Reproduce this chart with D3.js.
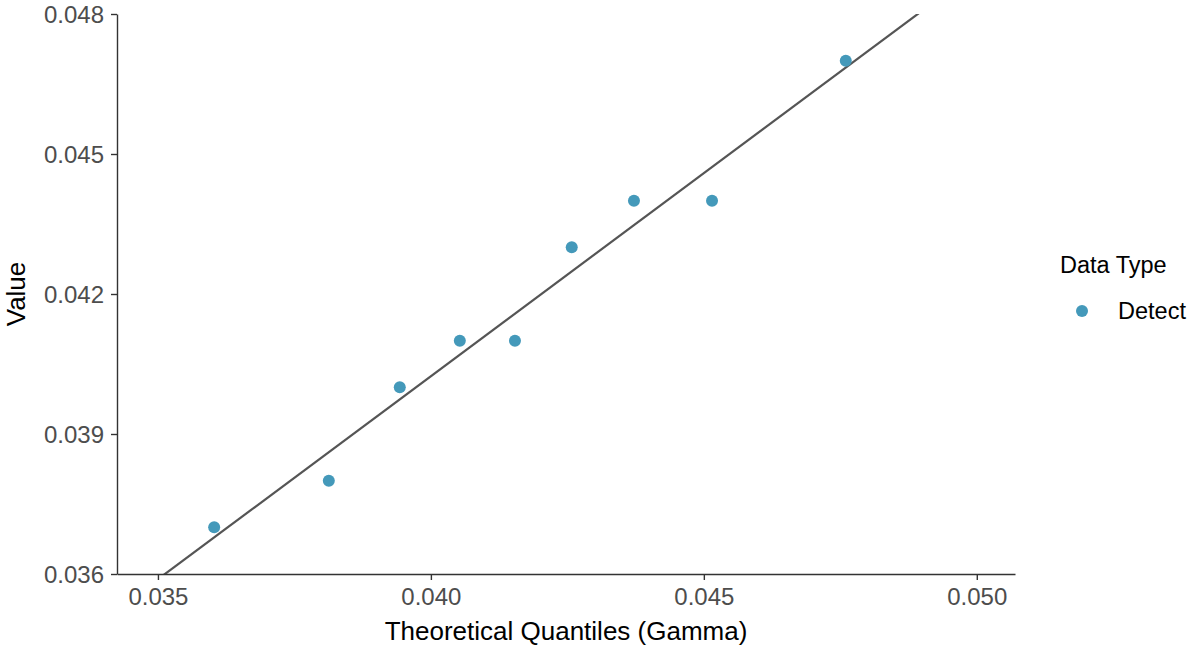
<!DOCTYPE html>
<html>
<head>
<meta charset="utf-8">
<script src="https://cdn.jsdelivr.net/npm/d3@7"></script>
<style>
  body { margin: 0; background: #fff; }
  text { font-family: "Liberation Sans", Arial, sans-serif; }
</style>
</head>
<body>
<svg id="chart" width="1190" height="648"></svg>
<script>
// ---- Data ----
const theoretical = [0.03603, 0.03813, 0.03943, 0.04053, 0.04154, 0.04258, 0.04372, 0.04515, 0.04760];
const observed    = [0.037, 0.038, 0.040, 0.041, 0.041, 0.043, 0.044, 0.044, 0.047];
const seriesName  = "Detect";
const xTicks = [0.035, 0.040, 0.045, 0.050];
const yTicks = [0.036, 0.039, 0.042, 0.045, 0.048];
const lineSlope = 0.8701;
const lineIntercept = 0.005435;
const xDomain = [0.03425, 0.05070];
const yDomain = [0.036, 0.048];

// ---- Layout ----
const svg = d3.select("#chart");
const margin = { left: 117, right: 1015, top: 14, bottom: 574 };
const x = d3.scaleLinear().domain(xDomain).range([margin.left, margin.right]);
const y = d3.scaleLinear().domain(yDomain).range([margin.bottom, margin.top]);
const axisColor = "#333333";
const tickTextColor = "#4d4d4d";
const pointColor = "#4499BA";

svg.append("defs").append("clipPath").attr("id", "clip")
  .append("rect").attr("x", margin.left).attr("y", margin.top)
  .attr("width", margin.right - margin.left).attr("height", margin.bottom - margin.top);

// reference line
const lx0 = xDomain[0], lx1 = xDomain[1];
svg.append("line")
  .attr("clip-path", "url(#clip)")
  .attr("x1", x(lx0)).attr("y1", y(lineSlope * lx0 + lineIntercept))
  .attr("x2", x(lx1)).attr("y2", y(lineSlope * lx1 + lineIntercept))
  .attr("stroke", "#555555").attr("stroke-width", 2.2);

// points
svg.append("g").selectAll("circle")
  .data(theoretical.map((t, i) => [t, observed[i]]))
  .join("circle")
  .attr("cx", d => x(d[0])).attr("cy", d => y(d[1]))
  .attr("r", 6).attr("fill", pointColor);

// axes
const xAxis = svg.append("g").attr("transform", `translate(0,${margin.bottom})`)
  .call(d3.axisBottom(x).tickValues(xTicks).tickFormat(d3.format(".3f")).tickSize(6).tickPadding(5).tickSizeOuter(0));
const yAxis = svg.append("g").attr("transform", `translate(${margin.left},0)`)
  .call(d3.axisLeft(y).tickValues(yTicks).tickFormat(d3.format(".3f")).tickSize(6).tickPadding(7).tickSizeOuter(0));
[xAxis, yAxis].forEach(g => {
  g.select(".domain").attr("stroke", axisColor).attr("stroke-width", 1.4);
  g.selectAll(".tick line").attr("stroke", axisColor).attr("stroke-width", 1.4);
  g.selectAll(".tick text").attr("fill", tickTextColor).style("font-size", "24px")
    .style("font-family", "'Liberation Sans', Arial, sans-serif");
});
xAxis.selectAll(".tick text").attr("y", 31).attr("dy", "0");
yAxis.selectAll(".tick text").attr("dy", "0.35em");

// axis titles
svg.append("text").attr("x", (margin.left + margin.right) / 2).attr("y", 640)
  .attr("text-anchor", "middle").style("font-size", "26px").attr("fill", "#000")
  .text("Theoretical Quantiles (Gamma)");
svg.append("text").attr("transform", `translate(25,${(margin.top + margin.bottom) / 2}) rotate(-90)`)
  .attr("text-anchor", "middle").style("font-size", "26px").attr("fill", "#000")
  .text("Value");

// legend
svg.append("text").attr("x", 1060).attr("y", 273).style("font-size", "23.5px").attr("fill", "#000")
  .text("Data Type");
svg.append("circle").attr("cx", 1082).attr("cy", 311).attr("r", 6).attr("fill", pointColor);
svg.append("text").attr("x", 1118).attr("y", 319).style("font-size", "23.5px").attr("fill", "#000")
  .text(seriesName);
</script>
</body>
</html>
